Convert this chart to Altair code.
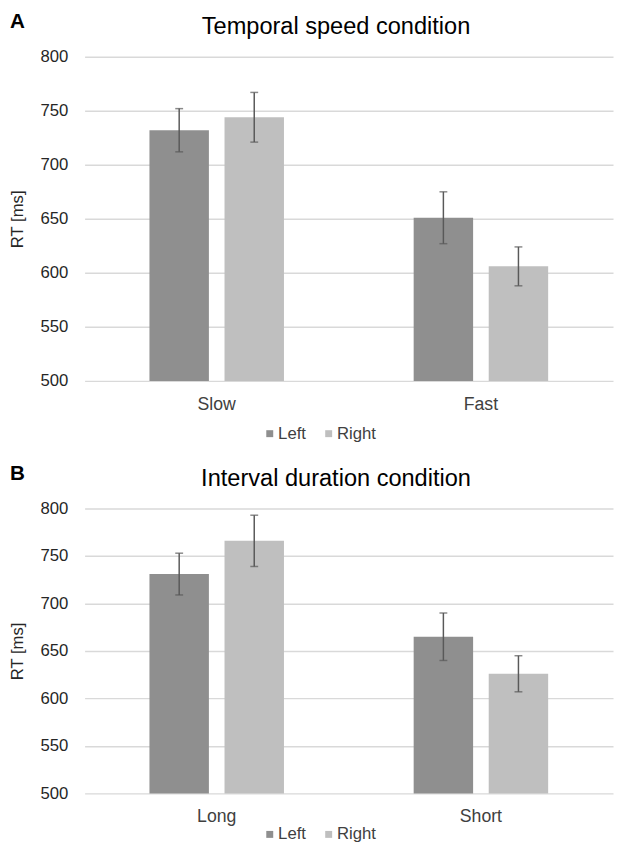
import altair as alt
import pandas as pd

FONT = "Liberation Sans"

sides = ["Left", "Right"]
side_colors = ["#8f8f8f", "#bfbfbf"]
y_ticks = [500, 550, 600, 650, 700, 750, 800]

# Panel A: Temporal speed condition
cond_a = ["Slow", "Fast"]
left_a = [732, 651]
right_a = [744, 606]
left_err_a = [20, 24]
right_err_a = [23, 18]

# Panel B: Interval duration condition
cond_b = ["Long", "Short"]
left_b = [731, 665]
right_b = [766, 626]
left_err_b = [22, 25]
right_err_b = [27, 19]


def make_df(conds, lv, rv, le, re):
    rows = []
    for i, c in enumerate(conds):
        rows.append(dict(cond=c, side="Left", rt=lv[i], lo=lv[i] - le[i], hi=lv[i] + le[i], base=500))
        rows.append(dict(cond=c, side="Right", rt=rv[i], lo=rv[i] - re[i], hi=rv[i] + re[i], base=500))
    return pd.DataFrame(rows)


def panel(df, conds, title, letter, height, legend_y):
    x = alt.X(
        "cond:N", sort=conds, title=None,
        scale=alt.Scale(paddingInner=0, paddingOuter=0),
        axis=alt.Axis(labelAngle=0, ticks=False, domain=False, labelFontSize=18,
                      labelColor="#404040", labelPadding=15, labelFont=FONT, grid=False),
    )
    xo = alt.XOffset("side:N", sort=sides,
                     scale=alt.Scale(paddingInner=0.208, paddingOuter=0.864))
    ysc = alt.Scale(domain=[500, 800], nice=False, zero=False)
    yax = alt.Axis(values=y_ticks, domain=False, ticks=False, gridColor="#d9d9d9",
                   gridWidth=1.5, labelPadding=17, labelFontSize=17, labelColor="#262626",
                   labelFont=FONT, titleFont=FONT, titleFontSize=17,
                   titleFontWeight="normal", titleColor="#262626", titlePadding=13.5)
    bars = alt.Chart(df).mark_bar().encode(
        x=x, xOffset=xo,
        y=alt.Y("rt:Q", scale=ysc, title="RT [ms]", axis=yax),
        y2=alt.Y2("base:Q"),
        color=alt.Color(
            "side:N", sort=sides,
            scale=alt.Scale(domain=sides, range=side_colors),
            legend=alt.Legend(title=None, orient="none", legendX=180, legendY=legend_y,
                              direction="horizontal", symbolType="square", symbolSize=50,
                              symbolStrokeWidth=0, labelFontSize=17, labelFont=FONT,
                              labelColor="#404040", labelOffset=0, columnPadding=14),
        ),
    )
    rules = alt.Chart(df).mark_rule(color="#595959", strokeWidth=1.5).encode(
        x=x, xOffset=xo, y=alt.Y("lo:Q", scale=ysc), y2="hi:Q")
    tick_lo = alt.Chart(df).mark_tick(orient="horizontal", size=8, thickness=1.5,
                                      color="#595959").encode(x=x, xOffset=xo, y=alt.Y("lo:Q", scale=ysc))
    tick_hi = alt.Chart(df).mark_tick(orient="horizontal", size=8, thickness=1.5,
                                      color="#595959").encode(x=x, xOffset=xo, y=alt.Y("hi:Q", scale=ysc))
    lab = alt.Chart(pd.DataFrame({"t": [letter]})).mark_text(
        font=FONT, fontSize=21, fontWeight="bold", align="left", baseline="alphabetic",
        color="#000000").encode(text="t:N", x=alt.value(-76), y=alt.value(-29))
    ttl = alt.Chart(pd.DataFrame({"t": [title]})).mark_text(
        font=FONT, fontSize=24, fontWeight="normal", align="center", baseline="alphabetic",
        color="#000000").encode(text="t:N", x=alt.value(256), y=alt.value(-23))
    return alt.layer(bars, rules, tick_lo, tick_hi, lab, ttl).properties(
        width=538, height=height)


pa = panel(make_df(cond_a, left_a, right_a, left_err_a, right_err_a), cond_a,
           "Temporal speed condition", "A", 330, 375)
pb = panel(make_df(cond_b, left_b, right_b, left_err_b, right_err_b), cond_b,
           "Interval duration condition", "B", 290, 323)

chart = alt.vconcat(
    pa, pb, spacing=20,
    padding={"left": 0, "top": -5, "right": 0, "bottom": 0},
).resolve_scale(
    x="independent", y="independent", xOffset="independent"
).resolve_legend(color="independent").configure_view(stroke="transparent")

chart.save("out.html", embed_options={"renderer": "svg", "actions": False})
